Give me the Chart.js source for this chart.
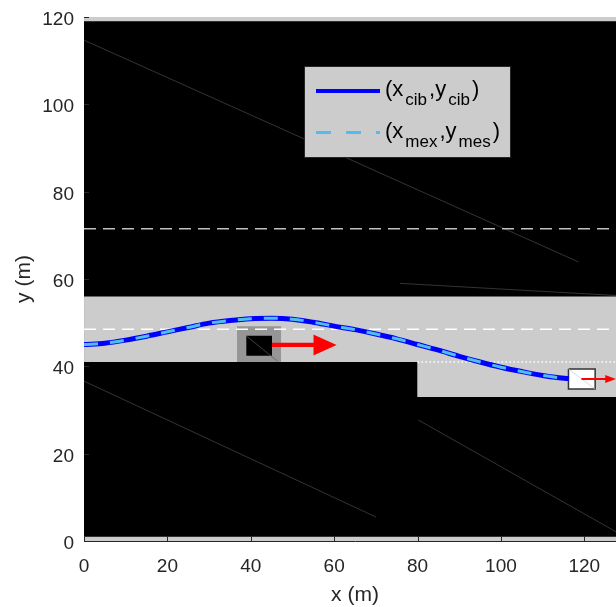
<!DOCTYPE html>
<html>
<head>
    <title>Lane Change Trajectory</title>
    <script src="https://cdn.jsdelivr.net/npm/chart.js"></script>
    <style>
        body {
            margin: 0;
            background: white;
            overflow: hidden;
        }
        .chart-container {
            position: relative;
            width: 640px;
            height: 607px;
        }
    </style>
</head>
<body>
    <div class="chart-container">
        <canvas id="myChart"></canvas>
    </div>
    <script>
        // target trajectory (x_cib, y_cib)
        const cibX = [0, 5, 10, 15, 20, 25, 30, 35, 40, 45, 50, 55, 60, 65, 70, 75, 80, 85, 90, 95, 100, 105, 110, 113, 116.3];
        const cibY = [45.0, 45.3, 46.0, 46.9, 47.9, 48.9, 49.9, 50.5, 50.9, 51.0, 50.8, 50.1, 49.2, 48.4, 47.4, 46.3, 45.0, 43.7, 42.3, 41.0, 39.8, 38.8, 37.9, 37.5, 37.2];
        // measured trajectory (x_mex, y_mes)
        const mesX = [0, 5, 10, 15, 20, 25, 30, 35, 40, 45, 50, 55, 60, 65, 70, 75, 80, 85, 90, 95, 100, 105, 110, 113, 116.3];
        const mesY = [45.0, 45.3, 46.0, 46.9, 47.9, 48.9, 49.9, 50.5, 50.9, 51.0, 50.8, 50.1, 49.2, 48.4, 47.4, 46.3, 45.0, 43.7, 42.3, 41.0, 39.8, 38.8, 37.9, 37.5, 37.2];

        const xTicks = [0, 20, 40, 60, 80, 100, 120];
        const yTicks = [0, 20, 40, 60, 80, 100, 120];

        // off-road blocks (top edge, filled down to base)
        const blockUpperX = [0, 130], blockUpperY = [119, 119], blockUpperBase = 56;
        const blockLeftX = [0, 80], blockLeftY = [41, 41], blockLeftBase = 1;
        const blockRightX = [79.8, 130], blockRightY = [33, 33], blockRightBase = 1;

        // thin diagonal lines
        const diagTopX = [0, 118.6], diagTopY = [114.7, 63.9];
        const diagEdgeX = [75.8, 128], diagEdgeY = [59.0, 56.2];
        const diagLowLeftX = [0, 70], diagLowLeftY = [36.6, 5.5];
        const diagLowRightX = [80.2, 128], diagLowRightY = [27.7, 1.9];

        // lane markings
        const laneUpperX = [0, 130], laneUpperY = [71.5, 71.5];
        const laneMidX = [0, 130], laneMidY = [48.5, 48.5];
        const edgeDotX = [80, 130], edgeDotY = [41, 41];

        // host vehicle
        const hostZoneX = [36.7, 47.3], hostZoneY = [49.2, 49.2], hostZoneBase = 41;
        const hostCarX = [38.9, 45.1], hostCarY = [47.0, 47.0], hostCarBase = 42.4;
        const hostDiagX = [38.9, 46.4], hostDiagY = [47.0, 41.2];
        const hostShaftX = [45.1, 55.5], hostShaftY = [44.9, 44.9];
        const hostHeadX = [55, 60.6], hostHeadTopY = [47.3, 44.9], hostHeadBotY = [42.5, 44.9], hostHeadBase = 44.9;

        // target vehicle
        const targetCarX = [116.2, 122.6], targetCarY = [39.4, 39.4], targetCarBase = 34.8;
        const targetEdgeX = [116.2, 122.6, 122.6, 116.2, 116.2], targetEdgeY = [39.4, 39.4, 34.8, 34.8, 39.4];
        const targetDiagX = [116.2, 122.6], targetDiagY = [39.4, 34.8];
        const targetShaftX = [119.3, 125.2], targetShaftY = [37.1, 37.1];
        const targetHeadX = [125, 127.6], targetHeadTopY = [38.0, 37.1], targetHeadBotY = [36.2, 37.1], targetHeadBase = 37.1;

        const pts = (xs, ys) => xs.map((x, i) => ({ x: x, y: ys[i] }));

        const plain = (xs, ys, color, width, dash) => ({
            data: pts(xs, ys),
            borderColor: color,
            borderWidth: width,
            borderDash: dash || [],
            fill: false
        });

        const block = (xs, ys, base, color) => ({
            data: pts(xs, ys),
            borderColor: color,
            backgroundColor: color,
            borderWidth: 0,
            fill: { value: base }
        });

        // listed bottom to top
        const layers = [
            block(blockUpperX, blockUpperY, blockUpperBase, '#000000'),
            block(blockRightX, blockRightY, blockRightBase, '#000000'),
            block(blockLeftX, blockLeftY, blockLeftBase, '#000000'),
            plain(diagTopX, diagTopY, '#4a4a4a', 0.7),
            plain(diagEdgeX, diagEdgeY, '#4a4a4a', 0.7),
            plain(diagLowLeftX, diagLowLeftY, '#4a4a4a', 0.7),
            plain(diagLowRightX, diagLowRightY, '#4a4a4a', 0.7),
            block(hostZoneX, hostZoneY, hostZoneBase, '#969696'),
            block(hostCarX, hostCarY, hostCarBase, '#000000'),
            plain(hostDiagX, hostDiagY, '#5a5a5a', 0.7),
            plain(laneUpperX, laneUpperY, '#c0c0c0', 1.5, [12, 7]),
            plain(laneMidX, laneMidY, '#ffffff', 1.5, [12, 7]),
            plain(edgeDotX, edgeDotY, '#ffffff', 1.5, [1.5, 2.5]),
            block(targetCarX, targetCarY, targetCarBase, '#ffffff'),
            plain(targetEdgeX, targetEdgeY, '#333333', 1.5),
            plain(targetDiagX, targetDiagY, '#c8c8e0', 0.7),
            plain(hostShaftX, hostShaftY, '#ff0000', 4.3),
            block(hostHeadX, hostHeadTopY, hostHeadBase, '#ff0000'),
            block(hostHeadX, hostHeadBotY, hostHeadBase, '#ff0000'),
            plain(targetShaftX, targetShaftY, '#ff0000', 2),
            block(targetHeadX, targetHeadTopY, targetHeadBase, '#ff0000'),
            block(targetHeadX, targetHeadBotY, targetHeadBase, '#ff0000'),
            Object.assign(plain(cibX, cibY, '#0000ff', 5), { cubicInterpolationMode: 'monotone' }),
            Object.assign(plain(mesX, mesY, '#4dbeee', 3, [14, 12]), { cubicInterpolationMode: 'monotone' })
        ];
        // highest order is drawn first
        layers.forEach((d, i) => { d.order = layers.length - i; d.pointRadius = 0; });

        const plotBackground = {
            id: 'plotBackground',
            beforeDraw(chart) {
                const { ctx, chartArea } = chart;
                ctx.save();
                ctx.fillStyle = '#cccccc';
                ctx.fillRect(chartArea.left, chartArea.top, chartArea.right - chartArea.left, chartArea.bottom - chartArea.top);
                ctx.restore();
            }
        };

        const innerTicks = {
            id: 'innerTicks',
            afterDatasetsDraw(chart) {
                const { ctx, chartArea, scales } = chart;
                ctx.save();
                ctx.strokeStyle = '#262626';
                ctx.lineWidth = 1;
                ctx.beginPath();
                xTicks.forEach(v => {
                    const px = Math.round(scales.x.getPixelForValue(v)) + 0.5;
                    ctx.moveTo(px, chartArea.bottom);
                    ctx.lineTo(px, chartArea.bottom - 5);
                });
                yTicks.forEach(v => {
                    const py = Math.round(scales.y.getPixelForValue(v)) + 0.5;
                    ctx.moveTo(chartArea.left, py);
                    ctx.lineTo(chartArea.left + 5, py);
                });
                ctx.stroke();
                ctx.restore();
            }
        };

        // legend with subscripts, drawn by hand
        const subLegend = {
            id: 'subLegend',
            afterDraw(chart) {
                const { ctx, chartArea } = chart;
                const left = chartArea.left + 220.5, top = chartArea.top + 49.5;
                const w = 206, h = 91;
                ctx.save();
                ctx.fillStyle = '#cccccc';
                ctx.fillRect(left, top, w, h);
                ctx.strokeStyle = '#262626';
                ctx.lineWidth = 1;
                ctx.strokeRect(left, top, w, h);

                const rows = [
                    { y: 24.5, color: '#0000ff', width: 4, dash: [], text: [['(x', 0], ['cib', 1], [',y', 0], ['cib', 1], [')', 0]] },
                    { y: 66, color: '#4dbeee', width: 3, dash: [15, 15], text: [['(x', 0], ['mex', 1], [',y', 0], ['mes', 1], [')', 0]] }
                ];
                rows.forEach(r => {
                    ctx.strokeStyle = r.color;
                    ctx.lineWidth = r.width;
                    ctx.setLineDash(r.dash);
                    ctx.beginPath();
                    ctx.moveTo(left + 11.5, top + r.y);
                    ctx.lineTo(left + 75.5, top + r.y);
                    ctx.stroke();
                    ctx.setLineDash([]);

                    let tx = left + 80.5;
                    const base = top + r.y + 5;
                    ctx.fillStyle = '#000000';
                    ctx.textBaseline = 'alphabetic';
                    ctx.textAlign = 'left';
                    r.text.forEach(([s, sub], i) => {
                        ctx.font = sub ? '17px "Liberation Sans", Arial, sans-serif' : '22px "Liberation Sans", Arial, sans-serif';
                        ctx.fillText(s, tx, sub ? base + 9 : base);
                        tx += ctx.measureText(s).width + (i < r.text.length - 1 ? 2 : 0);
                    });
                });
                ctx.restore();
            }
        };

        const xTickFont = { family: '"Liberation Sans", Arial, sans-serif', size: 19 };
        // small lineHeight keeps the top tick label from pushing the plot down;
        // the empty first line nudges each label a few px below its tick
        const yTickFont = { family: '"Liberation Sans", Arial, sans-serif', size: 19, lineHeight: 0.3 };
        const titleFont = { family: '"Liberation Sans", Arial, sans-serif', size: 21, lineHeight: 1.1 };

        const ctx = document.getElementById('myChart').getContext('2d');
        new Chart(ctx, {
            type: 'line',
            data: { datasets: layers },
            plugins: [plotBackground, innerTicks, subLegend],
            options: {
                responsive: true,
                maintainAspectRatio: false,
                animation: false,
                devicePixelRatio: 1,
                layout: { padding: { left: 0, top: 17, right: 14, bottom: 0 } },
                plugins: {
                    legend: { display: false },
                    tooltip: { enabled: false }
                },
                elements: {
                    point: { radius: 0 },
                    line: { tension: 0 }
                },
                scales: {
                    x: {
                        type: 'linear',
                        min: 0,
                        max: 130,
                        afterFit: s => { s.height = 66; },
                        afterBuildTicks: s => { s.ticks = xTicks.map(v => ({ value: v })); },
                        grid: { display: false, drawTicks: false },
                        border: { display: true, color: '#262626', width: 1 },
                        ticks: { color: '#262626', font: xTickFont, padding: 14, maxRotation: 0, autoSkip: false },
                        title: { display: true, text: 'x (m)', color: '#262626', font: titleFont, padding: { top: 0, bottom: 0 } }
                    },
                    y: {
                        type: 'linear',
                        min: 0,
                        max: 120,
                        z: 1,
                        afterFit: s => { s.width = 84; },
                        afterBuildTicks: s => { s.ticks = yTicks.map(v => ({ value: v })); },
                        grid: { display: false, drawTicks: false },
                        border: { display: true, color: '#c4c4c4', width: 1 },
                        ticks: { color: '#262626', font: yTickFont, padding: 10, callback: v => ['', String(v)] },
                        title: { display: true, text: 'y (m)', color: '#262626', font: titleFont, padding: { top: 13, bottom: 0 } }
                    }
                }
            }
        });
    </script>
</body>
</html>
